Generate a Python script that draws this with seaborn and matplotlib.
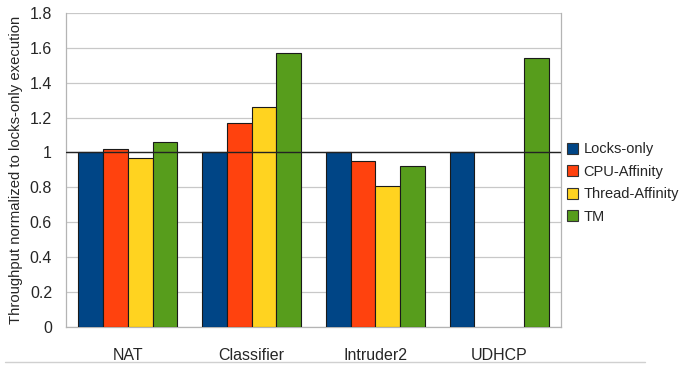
import numpy as np
import pandas as pd
import seaborn as sns
import matplotlib.pyplot as plt
from matplotlib.lines import Line2D

# values
benchmarks = ['NAT', 'Classifier', 'Intruder2', 'UDHCP']
series = ['Locks-only', 'CPU-Affinity', 'Thread-Affinity', 'TM']
locks_only = [1.0, 1.0, 1.0, 1.0]
cpu_affinity = [1.02, 1.17, 0.95, np.nan]
thread_affinity = [0.97, 1.26, 0.81, np.nan]
tm = [1.06, 1.57, 0.92, 1.54]
colors = ['#004586', '#ff420e', '#ffd320', '#579d1c']

rows = []
for name, vals in zip(series, [locks_only, cpu_affinity, thread_affinity, tm]):
    for b, v in zip(benchmarks, vals):
        rows.append({'benchmark': b, 'series': name, 'value': v})
df = pd.DataFrame(rows)

sns.set_style('white')
plt.rcParams['font.family'] = ['Liberation Sans', 'DejaVu Sans']

fig = plt.figure(figsize=(6.83, 3.67), dpi=100)
ax = fig.add_axes([0.0966, 0.109, 0.725, 0.856])

sns.barplot(data=df, x='benchmark', y='value', hue='series', order=benchmarks,
            hue_order=series, palette=colors, width=0.8, saturation=1,
            edgecolor='#1a1a1a', linewidth=0.8, ax=ax, zorder=3)

ax.set_ylim(0, 1.8)
ax.set_xlim(-0.5, 3.5)
ax.set_yticks(np.arange(0, 1.81, 0.2))
ax.set_yticklabels(['0', '0.2', '0.4', '0.6', '0.8', '1', '1.2', '1.4', '1.6', '1.8'])
ax.yaxis.grid(True, color='#c8c8c8', linewidth=0.9, zorder=0)
ax.set_axisbelow(True)
ax.axhline(1.0, color='#222222', linewidth=1.0, zorder=4)

ax.set_xticks(range(4))
ax.set_xticks([-0.5, 0.5, 1.5, 2.5, 3.5], minor=True)
ax.tick_params(axis='x', which='major', length=0, pad=15, labelsize=11.5)
ax.tick_params(axis='x', which='minor', length=6, color='#b4b4b4', width=0.9)
ax.tick_params(axis='y', length=6, color='#b4b4b4', width=0.9, labelsize=11.5, pad=4)

for side in ['left', 'bottom', 'right', 'top']:
    ax.spines[side].set_visible(True)
    ax.spines[side].set_color('#b4b4b4')
    ax.spines[side].set_linewidth(0.9)
ax.spines['top'].set_visible(False)

ax.set_xlabel('')
ax.set_ylabel('Throughput normalized to locks-only execution', fontsize=10.7, labelpad=5)

handles = [plt.Rectangle((0, 0), 1, 1, facecolor=c, edgecolor='#333333', linewidth=0.8)
           for c in colors]
ax.legend(handles, series, loc='center left', bbox_to_anchor=(1.005, 0.458),
          frameon=False, fontsize=10.5, handlelength=0.8, handleheight=0.8,
          handletextpad=0.35, labelspacing=0.58, borderaxespad=0.0,
          borderpad=0.2)

fig.add_artist(Line2D([5 / 683, 645 / 683], [1 - 362 / 367, 1 - 362 / 367],
                      color='#d0d0d0', linewidth=1.0))

fig.savefig('out.png', dpi=100)
